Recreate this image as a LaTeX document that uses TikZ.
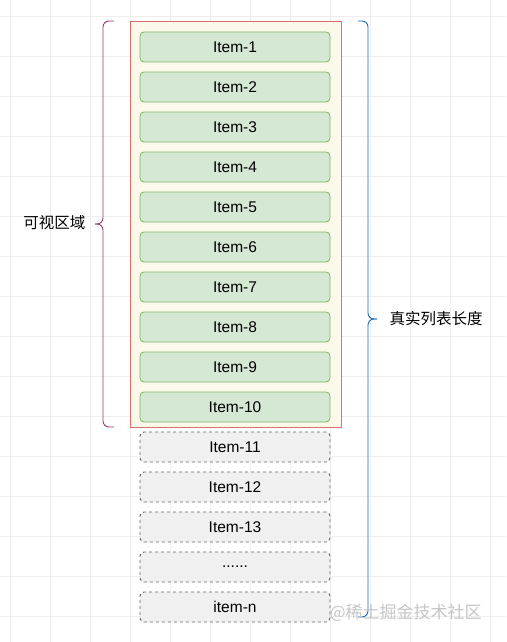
\documentclass[tikz,border=0pt]{standalone}
\usepackage{fontspec}
\setmainfont{Liberation Sans}
\newfontfamily\cjk{Noto Sans CJK SC}
\usetikzlibrary{positioning}
\definecolor{gridgray}{RGB}{238,238,238}
\definecolor{framefill}{RGB}{250,249,234}
\definecolor{frameline}{RGB}{220,110,110}
\definecolor{itemfill}{RGB}{213,232,212}
\definecolor{itemline}{RGB}{130,179,102}
\definecolor{restfill}{RGB}{240,240,240}
\definecolor{restline}{RGB}{102,102,102}
\definecolor{viewbrace}{RGB}{150,62,110}
\definecolor{listbrace}{RGB}{30,110,180}

\tikzset{
  item/.style={draw=itemline, fill=itemfill, line width=0.8pt, rounded corners=4pt, minimum width=190pt,
    minimum height=30pt, inner sep=0pt, font=\fontsize{15.5}{18}\selectfont},
  rest/.style={item, draw=restline, fill=restfill, dashed, line width=0.9pt},
  label/.style={font=\cjk\fontsize{15.5}{18}\selectfont},
}

\begin{document}
\begin{tikzpicture}[x=1pt, y=-1pt]
    \useasboundingbox[fill=white] (0,0) rectangle (506,642);
    \foreach \gx in {10,50,...,490} \draw[gridgray] (\gx,0) -- (\gx,642);
    \foreach \gy in {16,56,...,616} \draw[gridgray] (0,\gy) -- (506,\gy);
    \node[draw=frameline, fill=framefill, line width=0.9pt, minimum width=211pt, minimum height=406pt, inner sep=0pt] (view) at (235.5,224) {};
    \node[item] (i1) at (235,47) {Item-1};
    \node[item] (i2) at (235,87) {Item-2};
    \node[item] (i3) at (235,127) {Item-3};
    \node[item] (i4) at (235,167) {Item-4};
    \node[item] (i5) at (235,207) {Item-5};
    \node[item] (i6) at (235,247) {Item-6};
    \node[item] (i7) at (235,287) {Item-7};
    \node[item] (i8) at (235,327) {Item-8};
    \node[item] (i9) at (235,367) {Item-9};
    \node[item] (i10) at (235,407) {Item-10};
    \node[rest] (i11) at (235,447) {Item-11};
    \node[rest] (i12) at (235,487) {Item-12};
    \node[rest] (i13) at (235,527) {Item-13};
    \node[rest] (idots) at (235,567) {......};
    \node[rest] (in) at (235,607) {item-n};
    \coordinate (vt) at (114,21);
    \coordinate (vb) at (114,427);
    \coordinate (vtip) at (95,224);
    \draw[viewbrace, line width=0.9pt, rounded corners=6pt] (vt) -- (103,21) -- (103,224) -- (vtip);
    \draw[viewbrace, line width=0.9pt, rounded corners=6pt] (vb) -- (103,427) -- (103,224) -- (vtip);
    \node[label, anchor=east] (viewtext) at (89,223) {可视区域};
    \coordinate (lt) at (358,21);
    \coordinate (lb) at (358,617);
    \coordinate (ltip) at (377,319);
    \draw[listbrace, line width=0.9pt, rounded corners=6pt] (lt) -- (368,21) -- (368,319) -- (ltip);
    \draw[listbrace, line width=0.9pt, rounded corners=6pt] (lb) -- (368,617) -- (368,319) -- (ltip);
    \node[label, anchor=west] (listtext) at (386,319) {真实列表长度};
    \node[font=\cjk\fontsize{17}{20}\selectfont, text=gray!45, anchor=west] (mark) at (326,613) {@稀土掘金技术社区};
\end{tikzpicture}
\end{document}
